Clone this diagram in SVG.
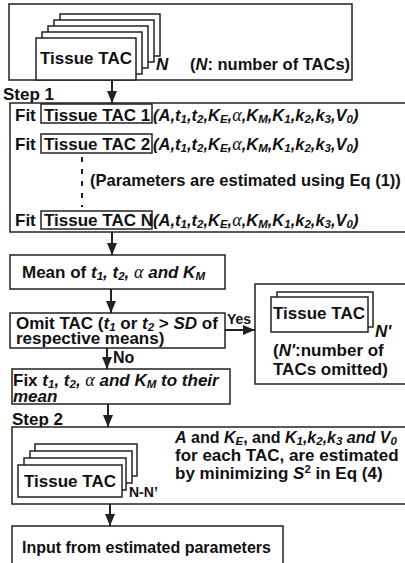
<svg xmlns="http://www.w3.org/2000/svg" width="405" height="563" viewBox="0 0 405 563">
<style>
.bx{fill:#fff;stroke:#222;stroke-width:1.5}
.t{font-family:"Liberation Sans",Arial,sans-serif;font-weight:bold;font-size:17px;fill:#111}
.p{font-size:16.5px}
.i{font-style:italic}
.s{font-size:11.5px;baseline-shift:-2px}
.a{font-family:"Liberation Serif","Times New Roman",serif;font-style:italic;font-weight:normal;font-size:18px}
.c{stroke:#222;stroke-width:2;fill:none}
</style>
<defs>
<marker id="ah" markerUnits="userSpaceOnUse" markerWidth="12" markerHeight="14" refX="12" refY="5" orient="auto" viewBox="0 0 12 10">
<path d="M0,0 L12,5 L0,10 Z" fill="#222"/>
</marker>
</defs>

<g id="top">
<rect class="bx" x="9" y="4" width="343" height="76"/>
<rect class="bx" x="60" y="14" width="100" height="42"/>
<rect class="bx" x="54" y="20" width="100" height="42"/>
<rect class="bx" x="48" y="26" width="100" height="42"/>
<rect class="bx" x="42" y="32" width="100" height="42"/>
<rect class="bx" x="36" y="38" width="100" height="42"/>
<text class="t" x="86" y="64" text-anchor="middle">Tissue TAC</text>
<text class="t i" x="156" y="70">N</text>
<text class="t p" x="190" y="70">(<tspan class="i">N</tspan>: number of TACs)</text>
</g>

<g id="step1">
<text class="t" x="3" y="100">Step 1</text>
<rect class="bx" x="10" y="103" width="410" height="129"/>
<text class="t" x="15" y="121">Fit</text>
<rect class="bx" x="41" y="104" width="111" height="19"/>
<text class="t" x="44" y="121">Tissue TAC 1</text>
<text class="t i p" x="153" y="121">(A,t<tspan class="s">1</tspan>,t<tspan class="s">2</tspan>,K<tspan class="s">E</tspan>,<tspan class="a">α</tspan>,K<tspan class="s">M</tspan>,K<tspan class="s">1</tspan>,k<tspan class="s">2</tspan>,k<tspan class="s">3</tspan>,V<tspan class="s">0</tspan>)</text>
<text class="t" x="15" y="150">Fit</text>
<rect class="bx" x="41" y="134" width="111" height="19"/>
<text class="t" x="44" y="150">Tissue TAC 2</text>
<text class="t i p" x="153" y="150">(A,t<tspan class="s">1</tspan>,t<tspan class="s">2</tspan>,K<tspan class="s">E</tspan>,<tspan class="a">α</tspan>,K<tspan class="s">M</tspan>,K<tspan class="s">1</tspan>,k<tspan class="s">2</tspan>,k<tspan class="s">3</tspan>,V<tspan class="s">0</tspan>)</text>
<line x1="82" y1="157" x2="82" y2="207" stroke="#222" stroke-width="2" stroke-dasharray="5,7"/>
<text class="t p" x="90" y="186">(Parameters are estimated using Eq (1))</text>
<text class="t" x="15" y="226">Fit</text>
<rect class="bx" x="41" y="211" width="111" height="18"/>
<text class="t" x="44" y="226">Tissue TAC N</text>
<text class="t i p" x="153" y="226">(A,t<tspan class="s">1</tspan>,t<tspan class="s">2</tspan>,K<tspan class="s">E</tspan>,<tspan class="a">α</tspan>,K<tspan class="s">M</tspan>,K<tspan class="s">1</tspan>,k<tspan class="s">2</tspan>,k<tspan class="s">3</tspan>,V<tspan class="s">0</tspan>)</text>
</g>

<g id="mean">
<rect class="bx" x="10" y="255" width="215" height="34"/>
<text class="t" x="22" y="278">Mean of <tspan class="i">t<tspan class="s">1</tspan>, t<tspan class="s">2</tspan>, </tspan><tspan class="a">α</tspan><tspan class="i"> and K<tspan class="s">M</tspan></tspan></text>
</g>

<g id="omit">
<rect class="bx" x="10" y="313" width="215" height="35"/>
<text class="t" x="16" y="329">Omit TAC (<tspan class="i">t<tspan class="s">1</tspan></tspan> or <tspan class="i">t<tspan class="s">2</tspan></tspan> &gt; <tspan class="i">SD</tspan> of</text>
<text class="t" x="16" y="344">respective means)</text>
</g>

<g id="omitted">
<rect class="bx" x="255" y="284" width="165" height="100"/>
<rect class="bx" x="277" y="292" width="96" height="35"/>
<rect class="bx" x="271" y="297" width="97" height="35"/>
<text class="t" x="319" y="319" text-anchor="middle">Tissue TAC</text>
<text class="t i" x="375" y="337">N'</text>
<text class="t" x="273" y="356">(<tspan class="i">N'</tspan>:number of</text>
<text class="t" x="273" y="375">TACs omitted)</text>
</g>

<g id="fix">
<rect class="bx" x="12" y="369" width="218" height="35"/>
<text class="t" x="13" y="386">Fix <tspan class="i">t<tspan class="s">1</tspan>, t<tspan class="s">2</tspan>, </tspan><tspan class="a">α</tspan><tspan class="i"> and K<tspan class="s">M</tspan> to their</tspan></text>
<text class="t i" x="13" y="402">mean</text>
</g>

<g id="step2">
<text class="t" x="12" y="425">Step 2</text>
<rect class="bx" x="12" y="427" width="408" height="77"/>
<rect class="bx" x="35" y="444" width="102" height="32"/>
<rect class="bx" x="30" y="451" width="102" height="32"/>
<rect class="bx" x="24" y="458" width="102" height="32"/>
<rect class="bx" x="18" y="465" width="104" height="32"/>
<text class="t" x="70" y="487" text-anchor="middle">Tissue TAC</text>
<text class="t" x="129" y="497" style="font-size:14px">N-N’</text>
<text class="t" x="175" y="443" style="font-size:16px"><tspan class="i">A</tspan> and <tspan class="i">K<tspan class="s">E</tspan></tspan>, and <tspan class="i">K<tspan class="s">1</tspan>,k<tspan class="s">2</tspan>,k<tspan class="s">3</tspan> and V<tspan class="s">0</tspan></tspan></text>
<text class="t" x="175" y="461">for each TAC, are estimated</text>
<text class="t" x="175" y="479">by minimizing <tspan class="i">S</tspan><tspan style="font-size:11.5px;baseline-shift:6px">2</tspan> in Eq (4)</text>
</g>

<g id="final">
<rect class="bx" x="12" y="526" width="271" height="40"/>
<text class="t" x="22" y="553" style="font-size:16px">Input from estimated parameters</text>
</g>

<g id="connectors">
<line class="c" x1="112" y1="80" x2="112" y2="103" marker-end="url(#ah)"/>
<line class="c" x1="112" y1="232" x2="112" y2="255" marker-end="url(#ah)"/>
<line class="c" x1="111" y1="289" x2="111" y2="313" marker-end="url(#ah)"/>
<line class="c" x1="107" y1="348" x2="107" y2="369" marker-end="url(#ah)"/>
<text class="t" x="113" y="363" style="font-size:16px">No</text>
<line class="c" x1="225" y1="330" x2="255" y2="330" marker-end="url(#ah)"/>
<text class="t" x="227" y="324" style="font-size:14px">Yes</text>
<line class="c" x1="108" y1="404" x2="108" y2="427" marker-end="url(#ah)"/>
<line class="c" x1="110" y1="504" x2="110" y2="526" marker-end="url(#ah)"/>
</g>
</svg>
